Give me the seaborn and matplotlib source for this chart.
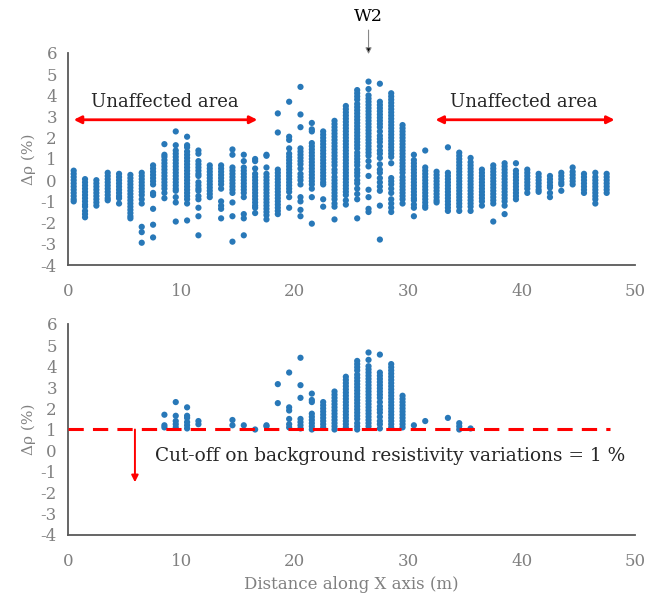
import pandas as pd
import seaborn as sns
import matplotlib.pyplot as plt

# column positions along the profile (m)
distance = [0.5 + i for i in range(48)]

# resistivity change values read for each column (%)
dq_values = [
    [0.45, 0.3, 0.15, 0.0, -0.15, -0.3, -0.45, -0.6, -0.75, -0.9, -1.0],
    [0.05, -0.1, -0.25, -0.4, -0.55, -0.7, -0.85, -1.0, -1.15, -1.25, -1.45, -1.6, -1.75],
    [0.0, -0.15, -0.3, -0.45, -0.6, -0.75, -0.9, -1.05, -1.2],
    [0.35, 0.2, 0.05, -0.1, -0.25, -0.4, -0.55, -0.7, -0.85, -0.95],
    [0.3, 0.15, 0.0, -0.15, -0.3, -0.45, -0.6, -0.75, -0.85, -1.1],
    [0.25, 0.1, -0.05, -0.2, -0.35, -0.5, -0.65, -0.8, -0.95, -1.1, -1.25, -1.4, -1.55, -1.7, -1.8],
    [0.35, 0.2, 0.05, -0.1, -0.25, -0.4, -0.55, -0.7, -0.9, -1.1, -2.2, -2.45, -2.95],
    [0.7, 0.55, 0.4, 0.25, 0.1, -0.05, -0.2, -0.6, -0.7, -1.35, -2.1, -2.7],
    [1.7, 1.2, 1.1, 0.95, 0.8, 0.65, 0.5, 0.35, 0.2, 0.05, -0.1, -0.25, -0.4, -0.6, -0.85],
    [2.3, 1.65, 1.4, 1.25, 1.1, 0.95, 0.8, 0.65, 0.5, 0.35, 0.2, 0.05, -0.1, -0.25, -0.4, -0.5, -0.8, -1.05, -1.95],
    [2.05, 1.65, 1.55, 1.35, 1.2, 1.05, 0.9, 0.75, 0.6, 0.45, 0.3, 0.15, 0.0, -0.15, -0.3, -0.45, -0.6, -0.75, -0.9, -1.1, -1.9],
    [1.4, 1.25, 0.9, 0.75, 0.6, 0.45, 0.3, 0.2, -0.1, -0.25, -0.4, -0.5, -0.75, -0.9, -1.3, -1.7, -2.6],
    [0.7, 0.55, 0.4, 0.25, 0.1, -0.05, -0.2, -0.35, -0.5, -0.65, -0.8],
    [0.7, 0.55, 0.4, 0.25, 0.1, -0.05, -0.2, -0.4, -1.0, -1.2, -1.35, -1.8],
    [1.45, 1.2, 0.6, 0.45, 0.3, 0.15, 0.0, -0.15, -0.3, -0.45, -0.6, -1.05, -1.7, -2.9],
    [1.2, 0.9, 0.6, 0.45, 0.3, 0.15, 0.0, -0.15, -0.3, -0.45, -0.6, -0.8, -1.6, -1.8, -2.6],
    [1.0, 0.9, 0.55, 0.3, 0.15, 0.0, -0.15, -0.3, -0.45, -0.6, -0.75, -0.9, -1.05, -1.2, -1.3, -1.55],
    [1.2, 1.15, 0.6, 0.3, 0.15, 0.0, -0.15, -0.3, -0.45, -0.6, -0.75, -0.9, -1.05, -1.2, -1.35, -1.5, -1.65, -1.85],
    [3.15, 2.25, 0.5, 0.35, 0.2, 0.05, -0.1, -0.25, -0.4, -0.55, -0.7, -0.85, -1.0, -1.15, -1.3, -1.45, -1.6],
    [3.7, 2.05, 1.9, 1.5, 1.25, 1.1, 0.95, 0.8, 0.65, 0.5, 0.35, 0.2, 0.05, -0.1, -0.25, -0.4, -0.55, -0.8, -1.3],
    [4.4, 3.1, 2.5, 1.5, 1.35, 1.2, 1.05, 0.9, 0.75, 0.55, 0.3, 0.15, 0.0, -0.2, -0.8, -1.0, -1.4, -1.7],
    [2.7, 2.4, 2.3, 1.75, 1.6, 1.45, 1.3, 1.15, 1.0, 0.85, 0.7, 0.55, 0.4, 0.25, 0.1, -0.05, -0.2, -0.4, -0.8, -2.05],
    [2.3, 2.15, 2.0, 1.85, 1.7, 1.55, 1.4, 1.25, 1.1, 0.95, 0.8, 0.65, 0.5, 0.35, 0.2, 0.05, -0.1, -0.2, -0.9, -1.25],
    [2.8, 2.65, 2.5, 2.35, 2.2, 2.05, 1.9, 1.75, 1.6, 1.45, 1.3, 1.15, 1.0, 0.85, 0.7, 0.5, 0.35, 0.15, 0.0,
     -0.15, -0.3, -0.45, -0.6, -0.75, -0.9, -1.1, -1.25, -1.85],
    [3.5, 3.35, 3.2, 3.05, 2.9, 2.75, 2.6, 2.45, 2.3, 2.15, 2.0, 1.85, 1.7, 1.55, 1.4, 1.25, 1.1, 0.95, 0.8,
     0.65, 0.5, 0.35, 0.2, 0.05, -0.1, -0.25, -0.4, -0.55, -0.7, -0.95, -1.15],
    [4.25, 4.1, 3.95, 3.8, 3.6, 3.45, 3.3, 3.15, 3.0, 2.85, 2.7, 2.55, 2.4, 2.25, 2.1, 1.95, 1.8, 1.65, 1.5,
     1.3, 1.15, 1.0, 0.85, 0.7, 0.5, 0.35, 0.2, 0.0, -0.15, -0.4, -0.65, -0.9, -1.8],
    [4.65, 4.3, 4.0, 3.85, 3.7, 3.55, 3.4, 3.25, 3.1, 2.95, 2.8, 2.65, 2.5, 2.35, 2.2, 2.05, 1.9, 1.75, 1.6,
     1.45, 1.3, 1.15, 0.9, 0.65, 0.2, -0.45, -0.8, -1.35, -1.5],
    [4.55, 3.7, 3.55, 3.4, 3.25, 3.1, 2.95, 2.8, 2.65, 2.5, 2.3, 2.1, 1.95, 1.8, 1.6, 1.4, 1.25, 1.05, 0.75,
     0.5, 0.35, 0.1, -0.1, -0.3, -0.5, -1.2, -2.8],
    [4.1, 3.95, 3.8, 3.65, 3.5, 3.35, 3.2, 3.05, 2.9, 2.75, 2.6, 2.45, 2.3, 2.15, 2.0, 1.85, 1.7, 1.55, 1.4,
     1.25, 1.1, 0.8, 0.1, -0.05, -0.2, -0.4, -0.6, -0.9, -1.1, -1.3, -1.5],
    [2.6, 2.45, 2.3, 2.15, 2.0, 1.85, 1.7, 1.55, 1.4, 1.25, 1.1, 0.95, 0.8, 0.65, 0.5, 0.35, 0.15, 0.0,
     -0.15, -0.3, -0.45, -0.6, -0.75, -0.9, -1.1],
    [1.2, 0.95, 0.8, 0.65, 0.5, 0.35, 0.2, 0.05, -0.1, -0.25, -0.4, -0.55, -0.7, -0.85, -0.95, -1.15, -1.3, -1.7],
    [1.4, 0.6, 0.45, 0.3, 0.15, 0.0, -0.15, -0.3, -0.45, -0.6, -0.75, -0.9, -1.05, -1.2, -1.3],
    [0.4, 0.25, 0.1, -0.05, -0.2, -0.35, -0.5, -0.65, -0.8, -0.95, -1.05],
    [1.55, 0.35, 0.2, 0.05, -0.1, -0.25, -0.4, -0.55, -0.7, -0.85, -1.0, -1.15, -1.3, -1.45],
    [1.3, 1.15, 1.0, 0.85, 0.7, 0.55, 0.4, 0.25, 0.1, -0.05, -0.2, -0.35, -0.5, -0.65, -0.8, -0.95, -1.1, -1.25, -1.45],
    [1.05, 0.85, 0.7, 0.55, 0.4, 0.25, 0.1, -0.05, -0.2, -0.35, -0.5, -0.65, -0.8, -0.95, -1.1, -1.25, -1.45],
    [0.5, 0.35, 0.2, 0.05, -0.1, -0.25, -0.4, -0.55, -0.7, -0.85, -1.0, -1.2],
    [0.7, 0.55, 0.4, 0.25, 0.1, -0.05, -0.2, -0.35, -0.5, -0.65, -0.8, -0.95, -1.1, -1.95],
    [0.8, 0.65, 0.5, 0.35, 0.2, 0.05, -0.1, -0.25, -0.4, -0.55, -0.7, -0.85, -1.0, -1.2, -1.6],
    [0.8, 0.45, 0.3, 0.15, 0.0, -0.15, -0.3, -0.45, -0.6, -0.75, -0.9],
    [0.5, 0.35, 0.2, 0.05, -0.1, -0.25, -0.4, -0.6],
    [0.3, 0.15, 0.0, -0.15, -0.3, -0.45, -0.55],
    [0.2, 0.05, -0.1, -0.25, -0.35, -0.6, -0.8],
    [0.35, 0.2, 0.05, -0.1, -0.2, -0.5],
    [0.6, 0.4, 0.25, 0.1, -0.05, -0.2],
    [0.3, 0.15, 0.0, -0.15, -0.3, -0.45, -0.6],
    [0.35, 0.15, 0.0, -0.15, -0.3, -0.45, -0.6, -0.75, -0.9, -1.1],
    [0.3, 0.15, 0.0, -0.15, -0.3, -0.45, -0.6],
]

cutoff = 1.0
x_ticks = [0, 10, 20, 30, 40, 50]
y_ticks = [-4, -3, -2, -1, 0, 1, 2, 3, 4, 5, 6]

rows = []
for d, vals in zip(distance, dq_values):
    for v in vals:
        rows.append((d, v))
df = pd.DataFrame(rows, columns=['distance', 'dq'])
df_cut = df[df['dq'] >= cutoff]

sns.set_style('white')
plt.rcParams['font.family'] = ['DejaVu Serif']
plt.rcParams['axes.unicode_minus'] = False

blue = '#2878b8'
grey_txt = '#808080'
spine_c = '#595959'

fig = plt.figure(figsize=(6.46, 6.02), dpi=100)
ax1 = fig.add_axes([0.1053, 0.5598, 0.8777, 0.3522])
ax2 = fig.add_axes([0.1053, 0.1113, 0.8777, 0.3505])

for ax, data in [(ax1, df), (ax2, df_cut)]:
    sns.scatterplot(data=data, x='distance', y='dq', ax=ax, color=blue, s=20,
                    edgecolor='none', linewidth=0, zorder=3)
    ax.set_xlim(0, 50)
    ax.set_ylim(-4, 6)
    ax.set_xticks(x_ticks)
    ax.set_yticks(y_ticks)
    ax.set_ylabel('Δρ (%)', color=grey_txt, fontsize=11, labelpad=3)
    ax.set_xlabel('')
    for side in ['top', 'right']:
        ax.spines[side].set_visible(False)
    for side in ['left', 'bottom']:
        ax.spines[side].set_color(spine_c)
        ax.spines[side].set_linewidth(1.3)
    ax.tick_params(axis='x', direction='out', length=4, width=1.2, color=spine_c,
                   labelcolor=grey_txt, labelsize=12, pad=9)
    ax.tick_params(axis='y', direction='out', length=5, width=1.2, color=spine_c,
                   labelcolor=grey_txt, labelsize=12, pad=3)

ax2.set_xlabel('Distance along X axis (m)', color=grey_txt, fontsize=12, labelpad=4)

# top panel annotations
ax1.annotate('W2', xy=(26.5, 5.95), xytext=(26.5, 7.3), ha='center', va='bottom',
             fontsize=12.5, color='black', annotation_clip=False,
             arrowprops=dict(arrowstyle='-|>', lw=0.8, ec='#888888', fc='black',
                             mutation_scale=9, shrinkA=1, shrinkB=0))
ax1.annotate('', xy=(0.5, 2.85), xytext=(16.7, 2.85),
             arrowprops=dict(arrowstyle='<|-|>', color='red', lw=2, mutation_scale=11,
                             shrinkA=0, shrinkB=0))
ax1.annotate('', xy=(32.4, 2.85), xytext=(48.2, 2.85), annotation_clip=False,
             arrowprops=dict(arrowstyle='<|-|>', color='red', lw=2, mutation_scale=11,
                             shrinkA=0, shrinkB=0))
ax1.text(8.5, 3.25, 'Unaffected area', ha='center', va='bottom', fontsize=13)
ax1.text(40.2, 3.25, 'Unaffected area', ha='center', va='bottom', fontsize=13)

# bottom panel annotations
ax2.hlines(cutoff, 0, 47.8, colors='red', linestyles=(0, (5, 3)), lw=2.2, zorder=4)
ax2.annotate('', xy=(5.9, -1.5), xytext=(5.9, cutoff),
             arrowprops=dict(arrowstyle='-|>', color='red', lw=1.4, mutation_scale=10,
                             shrinkA=0, shrinkB=0))
ax2.text(7.7, -0.25, 'Cut-off on background resistivity variations = 1 %',
         ha='left', va='center', fontsize=13.35)

fig.savefig('out.png', dpi=100)
